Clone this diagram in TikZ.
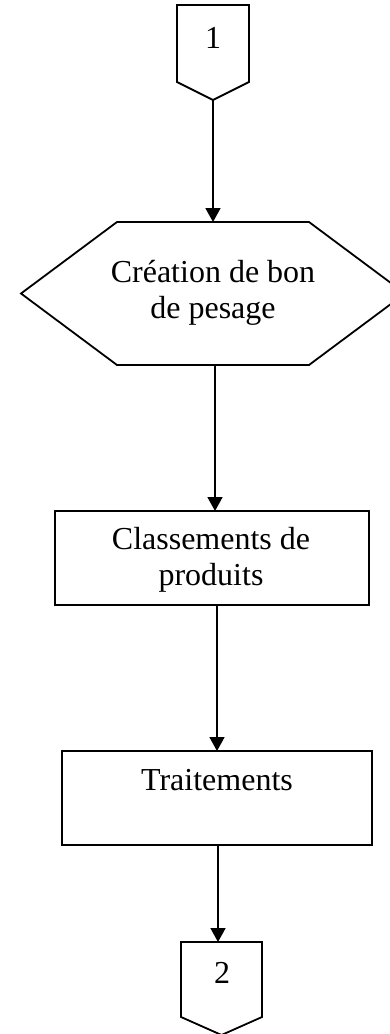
\documentclass[tikz,border=0pt]{standalone}
\usepackage{fontspec}
\setmainfont{Liberation Serif}
\usetikzlibrary{arrows.meta}
\begin{document}
\begin{tikzpicture}[x=1pt,y=-1pt,line width=1.8pt,line join=miter,
  shp/.style={draw=none,inner sep=0pt,outer sep=0pt},
  boxnode/.style={draw,inner sep=0pt,outer sep=0pt},
  txt/.style={inner sep=0pt,font=\fontsize{32}{36}\selectfont,align=center},
  flow/.style={-{Triangle[width=15pt,length=14pt]}}]
\useasboundingbox (0,0) rectangle (390,1034);

% off-page connector 1
\node[shp,minimum width=72pt,minimum height=95pt] (c1) at (213,52.5) {};
\draw (c1.north west) -- (c1.north east) -- ([yshift=18pt]c1.south east)
  -- (c1.south) -- ([yshift=18pt]c1.south west) -- cycle;
\node[txt,anchor=base] (t1) at (213,48) {1};

% hexagon
\node[shp,minimum width=384pt,minimum height=143pt] (hex) at (213,293.5) {};
\draw (hex.west) -- ([xshift=96pt]hex.north west) -- ([xshift=-96pt]hex.north east)
  -- (hex.east) -- ([xshift=-96pt]hex.south east) -- ([xshift=96pt]hex.south west) -- cycle;
\node[txt] (th) at (213,292.5) {Création de bon\\de pesage};

% box 2
\node[boxnode,minimum width=314pt,minimum height=94pt] (b2) at (212,558) {};
\node[txt] (tb2) at (211,560) {Classements de\\produits};

% box 3
\node[boxnode,minimum width=310pt,minimum height=94pt] (b3) at (217,798) {};
\node[txt,anchor=base] (tb3) at (217,790) {Traitements};

% off-page connector 2
\node[shp,minimum width=81pt,minimum height=93pt] (c2) at (221.5,988.5) {};
\draw (c2.north west) -- (c2.north east) -- ([yshift=18pt]c2.south east)
  -- (c2.south) -- ([yshift=18pt]c2.south west) -- cycle;
\node[txt,anchor=base] (t2) at (222,983) {2};

% connectors
\coordinate (a2) at (215,0);
\coordinate (a3) at (217,0);
\coordinate (a4) at (218,0);
\draw[flow] (c1.south) -- (hex.north);
\draw[flow] (a2 |- hex.south) -- (a2 |- b2.north);
\draw[flow] (a3 |- b2.south) -- (a3 |- b3.north);
\draw[flow] (a4 |- b3.south) -- (a4 |- c2.north);
\end{tikzpicture}
\end{document}
